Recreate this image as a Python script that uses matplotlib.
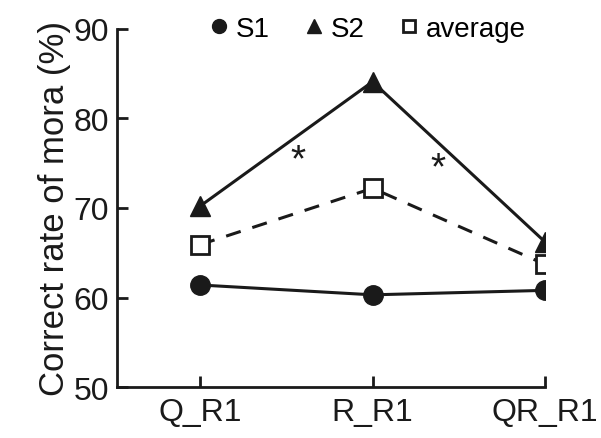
import matplotlib.pyplot as plt
from matplotlib.lines import Line2D

plt.rcParams['font.family'] = ['Liberation Sans', 'DejaVu Sans']

# data
conditions = ['Q_R1', 'R_R1', 'QR_R1']
s1 = [61.4, 60.3, 60.8]
s2 = [70.2, 84.1, 66.2]
average = [65.9, 72.2, 63.7]

# significance marks (between conditions)
star_x = [0.57, 1.38]
star_y = [75.3, 74.4]

fig = plt.figure(figsize=(6.01, 4.39), dpi=100)
ax = fig.add_axes([0.195, 0.116, 0.712, 0.816])

x = range(len(conditions))
ax.plot(x, s1, color='#1a1a1a', lw=2.2, marker='o', ms=14, zorder=3)
ax.plot(x, s2, color='#1a1a1a', lw=2.2, marker='^', ms=15, zorder=3)
ax.plot(x, average, color='#1a1a1a', lw=2.2, ls=(0, (5, 4)), marker='s', ms=13,
        mfc='white', mec='#1a1a1a', mew=2, zorder=4)

for sx, sy in zip(star_x, star_y):
    ax.text(sx, sy, '*', fontsize=28, ha='center', va='center', color='#1a1a1a')

ax.set_xlim(-0.48, 2)
ax.set_ylim(50, 90)
ax.set_yticks([50, 60, 70, 80, 90])
ax.set_xticks(list(x))
ax.set_xticklabels(conditions)
ax.tick_params(direction='in', length=8, width=2, labelsize=23, colors='#1a1a1a')
ax.tick_params(axis='x', pad=7)
ax.tick_params(axis='y', pad=6)
for s in ['top', 'right']:
    ax.spines[s].set_visible(False)
for s in ['left', 'bottom']:
    ax.spines[s].set_linewidth(2)
    ax.spines[s].set_color('#1a1a1a')

ax.set_ylabel('Correct rate of mora (%)', fontsize=25, color='#1a1a1a', labelpad=2)

handles = [
    Line2D([], [], ls='none', marker='o', ms=10, color='#1a1a1a'),
    Line2D([], [], ls='none', marker='^', ms=10, color='#1a1a1a'),
    Line2D([], [], ls='none', marker='s', ms=8, mfc='white', mec='#1a1a1a', mew=2),
]
ax.legend(handles, ['S1', 'S2', 'average'], ncol=3, frameon=False, fontsize=20,
          loc='center', bbox_to_anchor=(0.58, 1.0), handletextpad=0.1,
          columnspacing=1.1, handlelength=1.0)

fig.savefig('out.png', dpi=100)
